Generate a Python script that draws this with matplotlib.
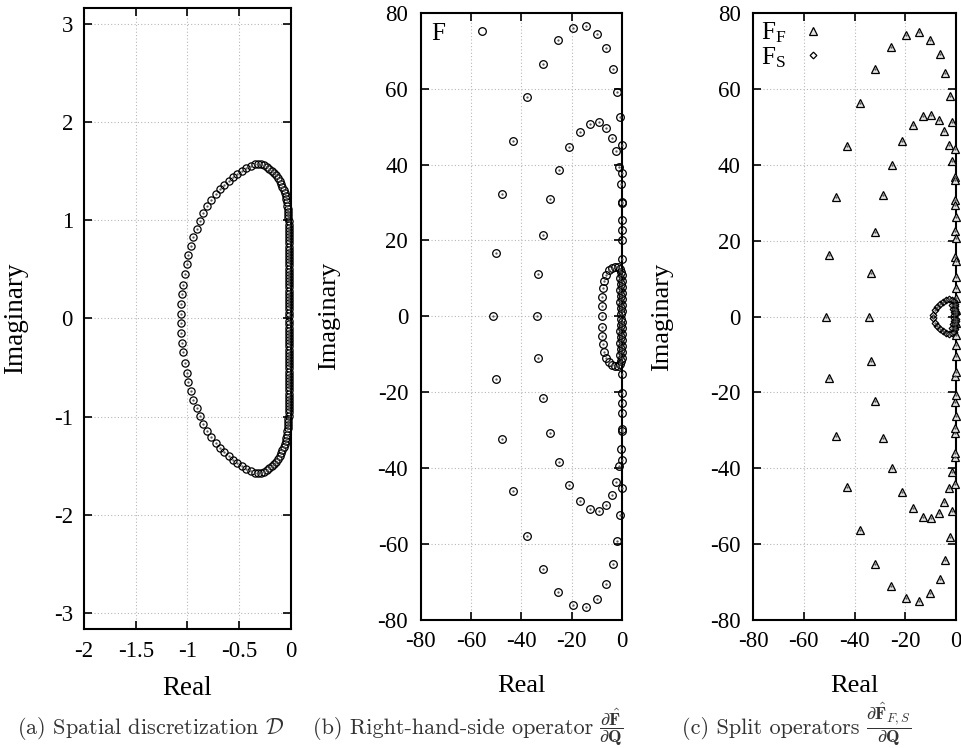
import numpy as np
import matplotlib.pyplot as plt
from matplotlib.lines import Line2D
from matplotlib.ticker import FormatStrFormatter

plt.rcParams['font.family'] = ['Liberation Serif', 'DejaVu Serif']
plt.rcParams['mathtext.fontset'] = 'custom'
plt.rcParams['mathtext.rm'] = 'Liberation Serif'
plt.rcParams['mathtext.it'] = 'Liberation Serif:italic'
plt.rcParams['mathtext.bf'] = 'Liberation Serif:bold'
plt.rcParams['axes.unicode_minus'] = False

# ---- eigenvalues, upper half plane (the lower half is the complex conjugate) ----
# (a) spatial discretization D
a_re = [-1.064, -1.060, -1.052, -1.040, -1.024, -1.008, -0.992, -0.969, -0.944, -0.911,
        -0.879, -0.847, -0.809, -0.770, -0.728, -0.686, -0.644, -0.602, -0.563, -0.519,
        -0.477, -0.435, -0.390, -0.348, -0.318, -0.290, -0.262, -0.236, -0.211, -0.188,
        -0.166, -0.146, -0.128, -0.111, -0.096, -0.083, -0.071, -0.061, -0.052, -0.045,
        -0.039, -0.034, -0.030, -0.027, -0.025, -0.025, -0.024, -0.024, -0.024, -0.023,
        -0.023, -0.023, -0.022, -0.022, -0.022, -0.021, -0.021, -0.021, -0.021, -0.020,
        -0.020, -0.020, -0.020, -0.019, -0.019, -0.019, -0.019, -0.019, -0.018, -0.018,
        -0.018, -0.018, -0.018, -0.018, -0.018, -0.018, -0.018]
a_im = [0.050, 0.150, 0.250, 0.346, 0.455, 0.556, 0.644, 0.736, 0.827, 0.912,
        0.993, 1.075, 1.143, 1.210, 1.268, 1.319, 1.363, 1.400, 1.438, 1.472,
        1.502, 1.529, 1.553, 1.570, 1.576, 1.570, 1.558, 1.543, 1.524, 1.504,
        1.481, 1.456, 1.430, 1.402, 1.373, 1.343, 1.312, 1.280, 1.248, 1.215,
        1.182, 1.150, 1.117, 1.084, 1.052, 1.020, 0.988, 0.956, 0.924, 0.892,
        0.860, 0.828, 0.796, 0.764, 0.732, 0.700, 0.668, 0.636, 0.604, 0.572,
        0.540, 0.508, 0.476, 0.444, 0.412, 0.380, 0.348, 0.316, 0.284, 0.252,
        0.220, 0.188, 0.156, 0.124, 0.092, 0.060, 0.028]

# (b) right-hand-side operator dF/dQ
b_axis_re = [-51.1, -33.9, -7.9]
b_re = [-50.1, -47.6, -43.2, -37.6, -31.5, -25.4, -19.4, -14.2, -9.8, -6.4, -3.6, -1.9, -0.7, -0.2,
        -33.5, -31.5, -28.6, -25.0, -20.9, -16.7, -12.7, -9.3, -6.5, -4.0, -2.4, -1.1,
        -0.1, -0.4, -0.1, -0.2, -0.1, -0.1, -0.1, -0.1,
        -7.9, -7.8, -7.5, -7.0, -6.2, -5.2, -4.0, -2.8, -1.7, -0.9,
        -0.6, -0.2, -0.7, -0.2, -0.6, -0.2, -0.7, -0.2, -0.6, -0.2, -0.7, -0.2, -0.6, -0.2, -0.6]
b_im = [16.6, 32.2, 46.1, 57.8, 66.6, 72.7, 76.0, 76.5, 74.4, 70.6, 65.3, 59.2, 52.4, 45.1,
        11.1, 21.4, 30.8, 38.5, 44.5, 48.6, 50.8, 51.2, 49.7, 47.1, 43.6, 39.4,
        37.8, 35.0, 30.2, 29.8, 25.4, 22.7, 20.2, 15.2,
        2.7, 5.2, 7.4, 9.4, 11.0, 12.1, 12.8, 13.1, 13.0, 12.5,
        11.8, 11.0, 10.2, 9.4, 8.6, 7.8, 7.0, 6.2, 5.4, 4.6, 3.8, 3.0, 2.2, 1.4, 0.6]

# (c) split operators: fast part F_F
cf_axis_re = [-51.4, -34.4]
cf_re = [-50.2, -47.4, -43.1, -38.0, -31.9, -25.6, -19.8, -14.7, -10.1, -6.5, -4.2, -2.4, -1.5, -0.5,
         -33.6, -31.8, -28.9, -25.2, -21.1, -17.1, -13.1, -9.9, -6.8, -4.7, -2.9, -1.7,
         -0.4, -0.3, -0.5, -0.2, -0.1, -0.2, -0.1, -0.2, -0.1, -0.1, -0.1, -0.1, -0.1]
cf_im = [16.3, 31.6, 45.0, 56.4, 65.3, 71.1, 74.3, 74.9, 72.9, 69.2, 64.1, 58.0, 51.3, 44.2,
         11.6, 22.4, 32.0, 40.0, 46.3, 50.6, 52.9, 53.2, 51.8, 49.0, 45.3, 41.1,
         36.9, 36.0, 30.6, 29.3, 26.1, 22.6, 20.8, 15.6, 14.6, 10.5, 7.5, 4.9, 1.8]

# (c) split operators: slow part F_S
cs_re = [-8.9, -8.4, -7.6, -6.5, -5.3, -4.0, -2.8, -1.7, -0.9, -0.5, -0.3, -0.2, -0.15, -0.1,
         -1.4, -1.1, -0.9, -0.7]
cs_im = [0.4, 1.6, 2.6, 3.4, 3.9, 4.3, 4.5, 4.4, 4.0, 3.4, 2.7, 2.0, 1.3, 0.6,
         3.0, 2.1, 1.2, 0.3]


def draw(ax, re, im, marker, ms, fc='none', axis_re=()):
    re = np.asarray(re)
    im = np.asarray(im)
    x = np.concatenate([re, re, axis_re])
    y = np.concatenate([im, -im, np.zeros(len(axis_re))])
    ax.plot(x, y, ls='none', marker=marker, ms=ms, mfc=fc, mec='black', mew=0.9,
            clip_on=False, zorder=3)
    ax.plot(x, y, ls='none', marker='.', ms=1.3, color='#555555', clip_on=False, zorder=4)


def style(ax, xlim, ylim, xticks, yticks, tsize, lsize, xpad, ypad, ylab_x, xlab_y):
    ax.set_xlim(xlim)
    ax.set_ylim(ylim)
    ax.set_xticks(xticks)
    ax.set_yticks(yticks)
    ax.xaxis.set_major_formatter(FormatStrFormatter('%g'))
    ax.yaxis.set_major_formatter(FormatStrFormatter('%g'))
    ax.grid(True, ls=(0, (1, 2)), color='#b8b8b8', lw=0.8)
    ax.set_axisbelow(True)
    ax.tick_params(direction='in', length=6, width=1.2, top=True, right=True, labelsize=tsize)
    ax.tick_params(axis='x', pad=xpad)
    ax.tick_params(axis='y', pad=ypad)
    for s in ax.spines.values():
        s.set_linewidth(1.5)
    ax.set_xlabel('Real', fontsize=lsize)
    ax.set_ylabel('Imaginary', fontsize=lsize)
    ax.yaxis.set_label_coords(ylab_x, 0.5)
    ax.xaxis.set_label_coords(0.5, xlab_y)


W, H = 961, 748
fig = plt.figure(figsize=(W / 100, H / 100), dpi=100)
ax1 = fig.add_axes([0.0874, 0.1591, 0.2154, 0.8302])
ax2 = fig.add_axes([0.4378, 0.1711, 0.2095, 0.8119])
ax3 = fig.add_axes([0.7836, 0.1711, 0.2112, 0.8115])

# (a)
draw(ax1, a_re, a_im, 'o', 5.2)
style(ax1, (-2, 0), (-3.16, 3.16), [-2, -1.5, -1, -0.5, 0], [-3, -2, -1, 0, 1, 2, 3],
      16.5, 19.5, 9, 8, -0.27, -0.075)

# (b)
draw(ax2, b_re, b_im, 'o', 5.5, axis_re=b_axis_re)
style(ax2, (-80, 0), (-80, 80), range(-80, 1, 20), range(-80, 81, 20),
      16.5, 19, 8, 9, -0.40, -0.091)
ax2.legend([Line2D([], [], ls='none', marker='o', ms=5.5, mfc='none', mec='black', mew=0.9)],
           ['F'], loc='upper left', markerfirst=False, frameon=False, fontsize=18,
           handlelength=1.0, handletextpad=1.0, borderaxespad=0.1, borderpad=0.3)

# (c)
draw(ax3, cf_re, cf_im, '^', 5.6, fc='#e4e4e4', axis_re=cf_axis_re)
draw(ax3, cs_re, cs_im, 'D', 3.4)
style(ax3, (-80, 0), (-80, 80), range(-80, 1, 20), range(-80, 81, 20),
      16.5, 19, 8, 9, -0.394, -0.091)
ax3.legend([Line2D([], [], ls='none', marker='^', ms=5.6, mfc='#e4e4e4', mec='black', mew=0.9),
            Line2D([], [], ls='none', marker='D', ms=3.4, mfc='none', mec='black', mew=0.9)],
           [r'F$_\mathrm{F}$', r'F$_\mathrm{S}$'], loc='upper left', markerfirst=False,
           frameon=False, fontsize=18, handlelength=1.0, handletextpad=0.6,
           labelspacing=0.0, borderaxespad=0.1, borderpad=0.2)

# sub-figure captions: text part, then the operator as a displayed fraction
cap = dict(fontfamily='cmr10', math_fontfamily='cm', color='#333333', ha='left')
cap_y = 1 - 728 / H
renderer = fig.canvas.get_renderer()
captions = [(17, r'(a) Spatial discretization $\mathcal{D}$', None),
            (313, r'(b) Right-hand-side operator',
             r'$\dfrac{\partial\hat{\mathbf{F}}}{\partial\mathbf{Q}}$'),
            (682, r'(c) Split operators',
             r'$\dfrac{\partial\hat{\mathbf{F}}_{F,S}}{\partial\mathbf{Q}}$')]
for x0, body, frac in captions:
    t = fig.text(x0 / W, cap_y, body, fontsize=16, va='center', **cap)
    if frac is not None:
        bb = t.get_window_extent(renderer=renderer)
        fig.text((bb.x1 + 6) / W, 0.5 / H, frac, fontsize=13, va='bottom', **cap)

fig.savefig('out.png', dpi=100)
